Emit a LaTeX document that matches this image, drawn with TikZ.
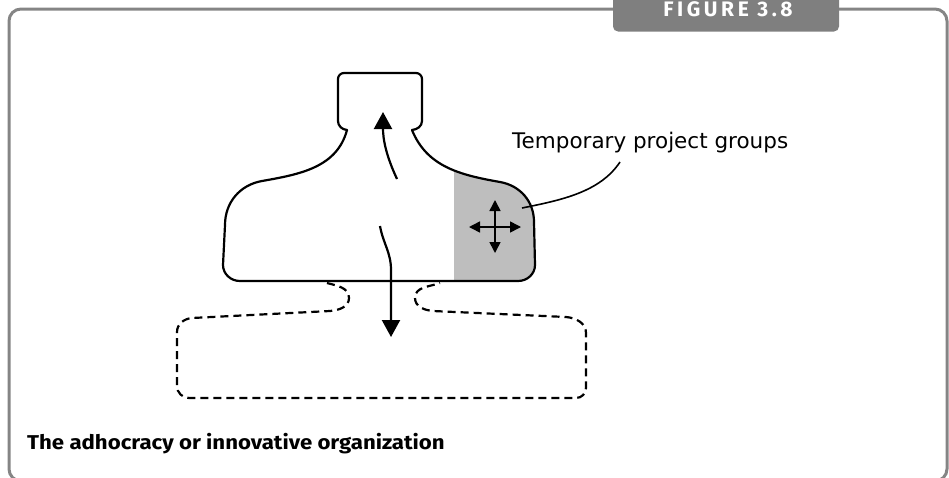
\documentclass[tikz,border=0pt]{standalone}
\usepackage{fontspec}
\setmainfont{DejaVu Sans}
\newfontfamily\capfont{Fira Sans}
\newfontfamily\tabfont{Fira Sans}[LetterSpace=17]
\usetikzlibrary{arrows.meta}
\definecolor{framegrey}{HTML}{858585}
\definecolor{tabgrey}{HTML}{7F7F7F}
\definecolor{groupgrey}{HTML}{BEBEBE}
\begin{document}
\begin{tikzpicture}[x=1pt,y=1pt,
  outline/.style={line width=2.2pt, line join=round},
  dashline/.style={line width=2.2pt, dash pattern=on 8pt off 5pt, line cap=butt},
  bigtip/.style={-{Triangle[length=17pt,width=18pt]}},
  smalltips/.style={{Triangle[length=11pt,width=11pt]}-{Triangle[length=11pt,width=11pt]}},
  leader/.style={line width=1.6pt}]
\useasboundingbox (0,0) rectangle (949,-477);
\clip (0,0) rectangle (949,-477);

% outer frame
\draw[framegrey, line width=3pt, rounded corners=12pt] (9,-481) rectangle (947,-9);
% title tab
\fill[tabgrey, rounded corners=5pt] (613,6) -- (613,-31.5) -- (839,-31.5) -- (839,6);
\node[anchor=base, text=white, font=\tabfont\bfseries\fontsize{21}{23}\selectfont, inner sep=0pt] (fig) at (728,-16) {FIGURE 3.8};

% organisation body
\path[save path=\bodyline]
  (347,-130) to[out=-105,in=10] (262,-181) to[out=190,in=90] (225,-225)
  -- (223,-265) to[out=-90,in=180] (240,-281)
  -- (518,-281) to[out=0,in=-90] (535,-265)
  -- (534,-222) to[out=90,in=-10] (500,-182)
  to[out=170,in=-68] (412,-130)
  to[out=5,in=-90] (422,-121) -- (422,-79) to[out=90,in=0] (416,-73)
  -- (344,-73) to[out=180,in=90] (338,-79) -- (338,-121)
  to[out=-90,in=175] (347,-130) -- cycle;
\begin{scope}
  \clip (454,-100) rectangle (620,-300);
  \fill[groupgrey, use path=\bodyline];
\end{scope}
\draw[outline, use path=\bodyline];

% dashed lower part
\draw[dashline]
  (327,-283) to[out=-15,in=90] (349,-298) to[out=-90,in=5] (330,-311)
  -- (192,-318) to[out=185,in=90] (177,-332)
  -- (177,-386) to[out=-90,in=180] (189,-398)
  -- (576,-398) to[out=0,in=-90] (586,-388)
  -- (586,-333) to[out=90,in=-5] (566,-317)
  -- (433,-311) to[out=175,in=-90] (415,-298) to[out=90,in=-160] (440,-283);

% flows
\coordinate (upfrom) at (397,-179);
\coordinate (upto) at (383,-112);
\coordinate (downfrom) at (380,-226);
\coordinate (downbend) at (391,-270);
\coordinate (downto) at (391,-337);
\draw[outline, bigtip] (upfrom) to[out=115,in=-90] (upto);
\draw[outline, bigtip] (downfrom) to[out=-80,in=90] (downbend) -- (downto);

% movement inside the project groups
\coordinate (mc) at (495,-227);
\draw[leader, smalltips] ([xshift=-26pt]mc) -- ([xshift=26pt]mc);
\draw[leader, smalltips] ([yshift=27pt]mc) -- ([yshift=-26pt]mc);

% label
\node[anchor=base west, font=\fontsize{21.5}{24}\selectfont, inner sep=0pt] (tpg) at (512,-148) {Temporary project groups};
\coordinate (lblfoot) at (620,-162);
\coordinate (grp) at (522,-208);
\draw[leader] (lblfoot) .. controls (600,-192) and (562,-200) .. (grp);

% caption
\node[anchor=base west, font=\capfont\bfseries\fontsize{20}{22}\selectfont, inner sep=0pt] (cap) at (27,-449) {\scalebox{1.11}[1]{The adhocracy or innovative organization}};
\end{tikzpicture}
\end{document}
